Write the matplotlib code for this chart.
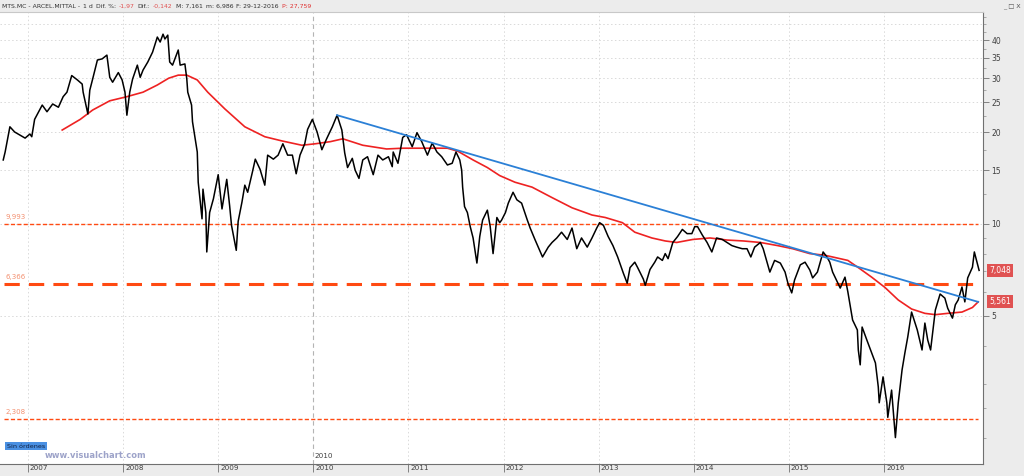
import math
import matplotlib
matplotlib.use("Agg")
import matplotlib.pyplot as plt
from matplotlib.ticker import FixedLocator, NullFormatter
from matplotlib.transforms import ScaledTranslation

# ---------------- data ----------------
price_t = [2006.74, 2006.76, 2006.81, 2006.86, 2006.92, 2006.97, 2007.02, 2007.04, 2007.07, 2007.15,
           2007.20, 2007.26, 2007.32, 2007.37, 2007.41, 2007.46, 2007.52, 2007.57, 2007.58, 2007.63,
           2007.65, 2007.68, 2007.73, 2007.78, 2007.83, 2007.86, 2007.89, 2007.95, 2007.99, 2008.02,
           2008.04, 2008.07, 2008.10, 2008.15, 2008.18, 2008.21, 2008.26, 2008.31, 2008.36, 2008.39,
           2008.42, 2008.44, 2008.47, 2008.49, 2008.52, 2008.58, 2008.60, 2008.65, 2008.67, 2008.68,
           2008.72, 2008.73, 2008.78, 2008.79, 2008.83, 2008.84, 2008.87, 2008.88, 2008.91, 2008.95,
           2009.00, 2009.04, 2009.09, 2009.12, 2009.14, 2009.19, 2009.21, 2009.25, 2009.28, 2009.31,
           2009.36, 2009.39, 2009.44, 2009.49, 2009.52, 2009.58, 2009.63, 2009.68, 2009.73, 2009.78,
           2009.82, 2009.86, 2009.91, 2009.94, 2009.99, 2010.04, 2010.09, 2010.14, 2010.20, 2010.23,
           2010.25, 2010.30, 2010.33, 2010.36, 2010.41, 2010.44, 2010.48, 2010.52, 2010.57, 2010.63,
           2010.68, 2010.73, 2010.79, 2010.83, 2010.84, 2010.89, 2010.94, 2010.98, 2011.04, 2011.09,
           2011.14, 2011.20, 2011.25, 2011.30, 2011.35, 2011.41, 2011.46, 2011.50, 2011.54, 2011.56,
           2011.57, 2011.59, 2011.62, 2011.65, 2011.68, 2011.72, 2011.75, 2011.78, 2011.83, 2011.86,
           2011.89, 2011.93, 2011.96, 2011.98, 2012.02, 2012.05, 2012.10, 2012.14, 2012.19, 2012.25,
           2012.28, 2012.33, 2012.38, 2012.41, 2012.47, 2012.51, 2012.56, 2012.61, 2012.67, 2012.72,
           2012.77, 2012.82, 2012.88, 2012.93, 2012.98, 2013.01, 2013.05, 2013.10, 2013.15, 2013.20,
           2013.26, 2013.30, 2013.33, 2013.38, 2013.41, 2013.47, 2013.49, 2013.54, 2013.59, 2013.62,
           2013.67, 2013.70, 2013.73, 2013.78, 2013.83, 2013.88, 2013.93, 2013.98, 2014.01, 2014.04,
           2014.09, 2014.14, 2014.19, 2014.24, 2014.30, 2014.35, 2014.40, 2014.45, 2014.51, 2014.56,
           2014.60, 2014.64, 2014.70, 2014.73, 2014.77, 2014.80, 2014.85, 2014.91, 2014.96, 2014.99,
           2015.03, 2015.06, 2015.12, 2015.17, 2015.22, 2015.25, 2015.30, 2015.33, 2015.36, 2015.40,
           2015.43, 2015.46, 2015.51, 2015.54, 2015.59, 2015.62, 2015.64, 2015.67, 2015.72, 2015.73,
           2015.75, 2015.77, 2015.82, 2015.87, 2015.91, 2015.94, 2015.95, 2015.99, 2016.03, 2016.04,
           2016.08, 2016.12, 2016.15, 2016.19, 2016.22, 2016.25, 2016.29, 2016.35, 2016.40, 2016.43,
           2016.46, 2016.49, 2016.54, 2016.59, 2016.64, 2016.67, 2016.72, 2016.75, 2016.78, 2016.82,
           2016.85, 2016.88, 2016.93, 2016.95, 2016.98, 2017.00]
price_v = [16.2, 17.2, 20.8, 20.0, 19.5, 19.1, 19.7, 19.3, 22.0, 24.5,
           23.3, 24.7, 24.1, 26.1, 27.0, 30.6, 29.6, 28.7, 27.0, 22.9,
           27.4, 29.8, 34.4, 34.7, 35.7, 30.2, 29.1, 31.3, 29.6, 27.0,
           22.7, 27.0, 29.8, 33.1, 30.2, 31.9, 33.9, 36.5, 40.9, 39.4,
           41.8, 40.3, 41.5, 33.9, 33.1, 37.1, 33.1, 33.4, 29.8, 27.0,
           24.5, 21.6, 17.2, 13.7, 10.4, 13.0, 10.9, 8.1, 10.9, 12.1,
           14.5, 11.2, 14.0, 11.5, 9.9, 8.2, 10.2, 11.8, 13.4, 12.7,
           14.8, 16.3, 15.1, 13.4, 16.8, 16.3, 16.8, 18.3, 16.8, 16.8,
           14.6, 16.8, 18.3, 20.4, 22.0, 20.0, 17.5, 19.0, 20.8, 21.9,
           22.7, 20.3, 17.1, 15.3, 16.4, 15.0, 14.1, 16.2, 16.6, 14.5,
           16.8, 16.2, 16.6, 15.4, 17.2, 15.8, 19.2, 19.6, 17.9, 19.9,
           18.6, 16.8, 18.4, 17.2, 16.6, 15.6, 15.8, 17.2, 16.2, 15.0,
           13.2, 11.4, 10.9, 9.8, 9.0, 7.45, 9.1, 10.3, 11.1, 9.8,
           8.0, 10.5, 10.1, 10.3, 10.9, 11.7, 12.7, 12.0, 11.7, 10.3,
           9.7, 8.9, 8.2, 7.8, 8.4, 8.7, 9.0, 9.4, 8.9, 9.7,
           8.3, 9.0, 8.4, 9.0, 9.7, 10.1, 9.9, 9.1, 8.5, 7.8,
           6.9, 6.4, 7.2, 7.5, 7.2, 6.6, 6.3, 7.1, 7.5, 7.8,
           7.6, 8.0, 7.7, 8.7, 9.1, 9.6, 9.3, 9.3, 9.8, 9.8,
           9.2, 8.7, 8.1, 9.0, 8.9, 8.7, 8.5, 8.4, 8.3, 8.3,
           7.8, 8.4, 8.7, 8.3, 7.5, 6.96, 7.6, 7.45, 6.96, 6.4,
           5.95, 6.56, 7.35, 7.5, 7.07, 6.66, 6.96, 7.5, 8.1, 7.8,
           7.5, 6.96, 6.46, 6.17, 6.7, 6.0, 5.5, 4.85, 4.5, 3.87,
           3.46, 4.6, 4.17, 3.79, 3.51, 2.93, 2.6, 3.16, 2.6, 2.33,
           2.86, 2.0, 2.6, 3.33, 3.79, 4.27, 5.15, 4.5, 3.87, 4.74,
           4.17, 3.87, 5.23, 5.9, 5.72, 5.3, 4.92, 5.44, 5.64, 6.22,
           5.56, 6.66, 7.22, 8.1, 7.45, 7.05]

ma_t = [2007.36, 2007.55, 2007.68, 2007.86, 2008.04, 2008.21, 2008.36, 2008.48, 2008.58, 2008.67,
        2008.78, 2008.89, 2009.07, 2009.28, 2009.49, 2009.67, 2009.88, 2010.02, 2010.18, 2010.31,
        2010.52, 2010.77, 2010.94, 2011.20, 2011.41, 2011.52, 2011.68, 2011.83, 2011.96, 2012.12,
        2012.30, 2012.51, 2012.72, 2012.93, 2013.07, 2013.25, 2013.38, 2013.56, 2013.70, 2013.82,
        2013.99, 2014.17, 2014.35, 2014.52, 2014.70, 2014.88, 2015.04, 2015.22, 2015.38, 2015.62,
        2015.73, 2015.87, 2016.01, 2016.15, 2016.29, 2016.43, 2016.54, 2016.67, 2016.82, 2016.93,
        2016.99]
ma_v = [20.3, 22.0, 23.6, 25.3, 26.1, 27.0, 28.5, 30.0, 30.7, 30.7,
        29.6, 27.0, 23.8, 20.8, 19.3, 18.7, 18.1, 18.3, 18.6, 19.0,
        18.1, 17.6, 17.7, 17.7, 17.7, 17.3, 16.2, 15.3, 14.4, 13.7,
        13.2, 12.2, 11.3, 10.7, 10.5, 10.1, 9.4, 9.0, 8.8, 8.7,
        8.9, 9.0, 8.86, 8.8, 8.7, 8.5, 8.3, 8.0, 7.9, 7.6,
        7.2, 6.7, 6.2, 5.64, 5.27, 5.1, 5.05, 5.1, 5.15, 5.33,
        5.56]

trend_t = [2010.25, 2016.99]
trend_v = [22.7, 5.56]

levels = [9.993, 6.366, 2.308]
level_labels = ["9,993", "6,366", "2,308"]
level_widths = [1.0, 2.2, 1.0]

last_close = 7.048
last_ma = 5.561

years = list(range(2007, 2017))
ytick_vals = [5, 10, 15, 20, 25, 30, 35, 40]
grid_vals = [5, 10, 15, 20, 25, 30, 35, 40, 45]
minor_vals = [2, 2.5, 3, 4, 6, 7, 8, 9, 12.5, 17.5, 22.5, 27.5, 32.5, 37.5, 42.5, 45, 47.5]

title_parts = ["MTS.MC - ARCEL.MITTAL -", "1 d", "Dif. %:", "-1,97", "Dif.:", "-0,142",
               "M: 7,161", "m: 6,986", "F: 29-12-2016", "P: 27,759"]
title_colors = ["#303030", "#303030", "#303030", "#E05050", "#303030", "#E05050",
                "#303030", "#303030", "#303030", "#E03030"]

# ---------------- figure ----------------
W, H = 1024, 476
YLO, YHI = 1.639, 49.4
fig = plt.figure(figsize=(W / 100, H / 100), dpi=100, facecolor="#ECECEC")
ax = fig.add_axes([0, 12 / H, 983 / W, 452 / H])
ax.set_facecolor("white")
ax.set_yscale("log")
ax.set_xlim(2006.706, 2017.041)
ax.set_ylim(YLO, YHI)

# grid
for g in grid_vals:
    ax.axhline(g, color="#D9D9D9", lw=0.7, ls=(0, (1.5, 2.5)), zorder=0)
for yr in years:
    if yr == 2010:
        ax.axvline(yr, color="#B4B4B4", lw=0.8, ls=(0, (4, 3)), zorder=0)
    else:
        ax.axvline(yr, color="#DADADA", lw=0.7, ls=(0, (1.5, 2.5)), zorder=0)

# levels
for lv, lab, lw in zip(levels, level_labels, level_widths):
    dash = (0, (5, 3)) if lw > 1.5 else (0, (3, 1.6))
    ax.hlines(lv, 2006.75, 2016.99, colors="#FF4A12", lw=lw, linestyles=[dash], zorder=2)
    ax.text(2006.765, lv * 1.03, lab, color="#F39070", fontsize=5, va="bottom", ha="left")

# series
ax.plot(ma_t, ma_v, color="#EE2222", lw=1.2, zorder=3)
ax.plot(price_t, price_v, color="black", lw=1.1, zorder=4)
ax.plot(trend_t, trend_v, color="#2B80D6", lw=1.3, zorder=5)

# y axis on the right
ax.yaxis.tick_right()
ax.yaxis.set_major_locator(FixedLocator(ytick_vals))
ax.yaxis.set_minor_locator(FixedLocator(minor_vals))
ax.yaxis.set_minor_formatter(NullFormatter())
ax.set_yticklabels([str(v) for v in ytick_vals])
ax.tick_params(axis="y", which="major", direction="out", length=4, width=0.6,
               color="#707070", labelsize=5.5, labelcolor="#404040", pad=2)
ax.tick_params(axis="y", which="minor", direction="out", length=2, width=0.5, color="#909090")

# x axis: labels sit beside the tick, inside the thin bottom bar
ax.set_xticks(years)
ax.set_xticklabels([str(y) for y in years])
ax.tick_params(axis="x", direction="out", length=6, width=0.6, color="#707070",
               labelsize=5.2, labelcolor="#404040", pad=-5)
off = ScaledTranslation(2 / 100, 0, fig.dpi_scale_trans)
for lbl in ax.get_xticklabels():
    lbl.set_ha("left")
    lbl.set_transform(lbl.get_transform() + off)

ax.spines["left"].set_visible(False)
ax.spines["top"].set_color("#C8C8C8")
ax.spines["right"].set_color("#707070")
ax.spines["bottom"].set_color("#707070")
for s in ["top", "right", "bottom"]:
    ax.spines[s].set_linewidth(0.8)

# 2010 marker inside plot
ax.text(2010.01, 1.70, "2010", fontsize=5.2, color="#404040", ha="left", va="bottom")

# price tags on the right axis
def frac(v):
    lo, hi = math.log10(YLO), math.log10(YHI)
    return (math.log10(v) - lo) / (hi - lo)

for v in [last_close, last_ma]:
    yf = 12 / H + frac(v) * 452 / H
    fig.text(989 / W, yf, f"{v:.3f}".replace(".", ","), fontsize=5.5, color="white",
             ha="left", va="center",
             bbox=dict(boxstyle="square,pad=0.25", fc="#E05252", ec="none"))

# title bar, pieces laid out one after another
renderer = fig.canvas.get_renderer()
ty = 1 - 6 / H
xpix = 2
for txt, col in zip(title_parts, title_colors):
    t = fig.text(xpix / W, ty, txt, fontsize=4.4, color=col, ha="left", va="center")
    bb = t.get_window_extent(renderer=renderer)
    xpix += bb.width + 3
fig.text(1003 / W, ty, "_ □ X", fontsize=4.6, color="#505050", ha="left", va="center")

# bottom-left badges
fig.text(7 / W, 1 - 446 / H, "Sin órdenes", fontsize=4.6, color="#102040", ha="left", va="center",
         bbox=dict(boxstyle="square,pad=0.3", fc="#4A90E2", ec="none"))
fig.text(96 / W, 1 - 455 / H, "www.visualchart.com", fontsize=6, color="#9DA3C9",
         fontweight="bold", ha="center", va="center")

fig.savefig("out.png", dpi=100, facecolor=fig.get_facecolor())
